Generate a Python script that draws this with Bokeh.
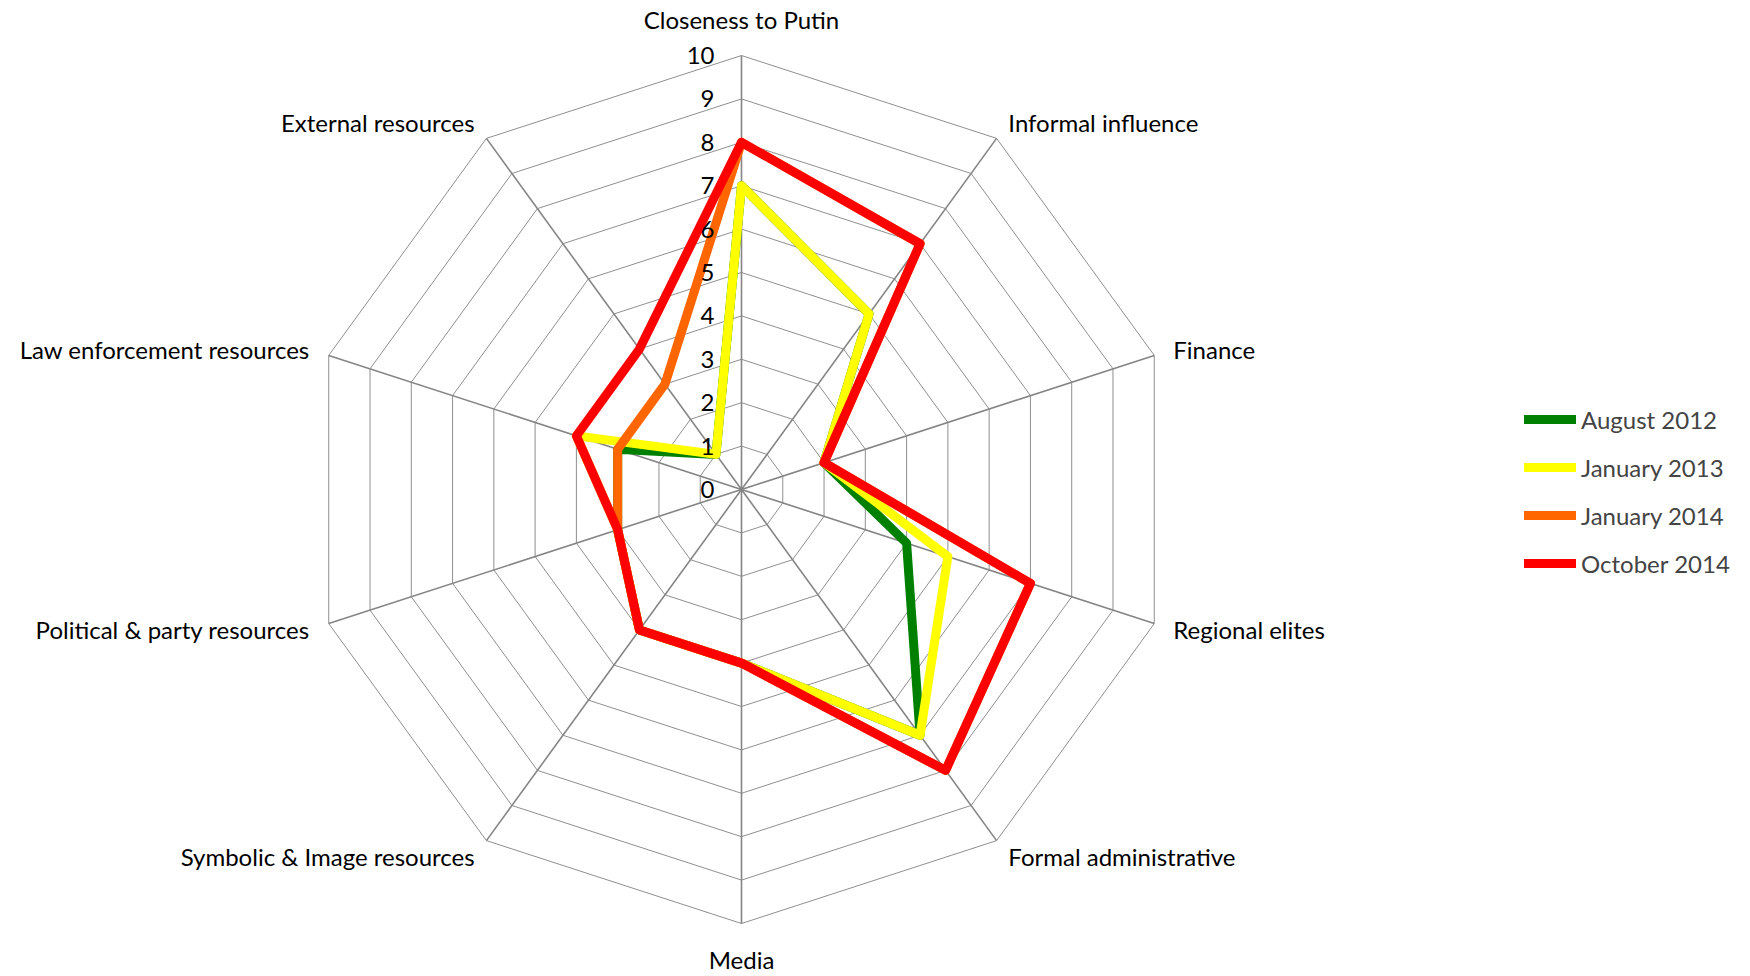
import numpy as np
from bokeh.plotting import figure
from bokeh.models import Legend, LegendItem, Range1d
from bokeh.embed import file_html
from bokeh.resources import INLINE
from bokeh.core.properties import value

# ---------------- data ----------------
categories = ["Closeness to Putin", "Informal influence", "Finance", "Regional elites",
              "Formal administrative", "Media", "Symbolic & Image resources",
              "Political & party resources", "Law enforcement resources", "External resources"]
aug_2012 = [7, 5, 2, 4, 7, 4, 4, 3, 3, 1]
jan_2013 = [7, 5, 2, 5, 7, 4, 4, 3, 4, 1]
jan_2014 = [8, 7, 2, 7, 8, 4, 4, 3, 3, 3]
oct_2014 = [8, 7, 2, 7, 8, 4, 4, 3, 4, 4]
series_names = ["August 2012", "January 2013", "January 2014", "October 2014"]
series_colors = ["#008000", "#FFFF00", "#FF6600", "#FF0000"]
tick_labels = [str(i) for i in range(0, 11)]
scale_max = 10

# ---------------- layout ----------------
W, H = 1750, 976
PX = 43.4                 # pixels per value unit
CX, CY = 741, 489         # centre of radar in figure pixels (from top-left)
FONT = "Lato"
FS = "24px"

p = figure(width=W, height=H, output_backend="svg", toolbar_location=None,
           x_range=Range1d(-CX / PX, (W - CX) / PX),
           y_range=Range1d(-(H - CY) / PX, CY / PX),
           x_axis_location=None, y_axis_location=None, min_border=0)
p.grid.visible = False
p.outline_line_color = None
p.background_fill_color = "white"
p.border_fill_color = "white"

n = len(categories)
ang = np.deg2rad(np.arange(n) * 360.0 / n)
sx, sy = np.sin(ang), np.cos(ang)

# rings
ring_xs, ring_ys = [], []
for v in range(1, scale_max + 1):
    ring_xs.append(list(np.append(v * sx, v * sx[0])))
    ring_ys.append(list(np.append(v * sy, v * sy[0])))
p.multi_line(ring_xs, ring_ys, line_color="#8f8f8f", line_width=1)

# spokes
p.multi_line([[0, scale_max * a] for a in sx], [[0, scale_max * b] for b in sy],
             line_color="#858585", line_width=1.6)

# series
renderers = []
for vals, col in zip([aug_2012, jan_2013, jan_2014, oct_2014], series_colors):
    v = np.array(vals, dtype=float)
    xs = list(np.append(v * sx, v[0] * sx[0]))
    ys = list(np.append(v * sy, v[0] * sy[0]))
    r = p.line(xs, ys, line_color=col, line_width=9, line_join="round", line_cap="round")
    renderers.append(r)

# tick labels along the vertical axis
p.text(x=[-27 / PX] * len(tick_labels), y=list(range(0, 11)), text=tick_labels,
       text_align="right", text_baseline="middle", text_font=value(FONT),
       text_font_size=FS, text_color="black")

# category labels
lx, ly, la = [], [], []
for i in range(n):
    ex, ey = scale_max * sx[i], scale_max * sy[i]
    if i == 0 or i == n // 2:
        d = 36 / PX
        lx.append(ex); ly.append(ey + (d if i == 0 else -d)); la.append("center")
    else:
        d = 20 / PX
        lx.append(ex + d * sx[i]); ly.append(ey + d * sy[i])
        la.append("left" if sx[i] > 0 else "right")
for i in range(n):
    p.text(x=[lx[i]], y=[ly[i]], text=[categories[i]], text_align=la[i],
           text_baseline="middle", text_font=value(FONT), text_font_size=FS,
           text_color="black")

legend = Legend(items=[LegendItem(label=nm, renderers=[r]) for nm, r in zip(series_names, renderers)],
                location=(1524, 398), orientation="vertical",
                glyph_width=52, glyph_height=30, label_height=30, label_standoff=5, spacing=18,
                padding=0, margin=0, border_line_color=None, background_fill_alpha=0,
                label_text_font=FONT, label_text_font_size=FS, label_text_baseline="middle")
p.add_layout(legend)

open("out.html", "w").write(file_html(p, INLINE))
